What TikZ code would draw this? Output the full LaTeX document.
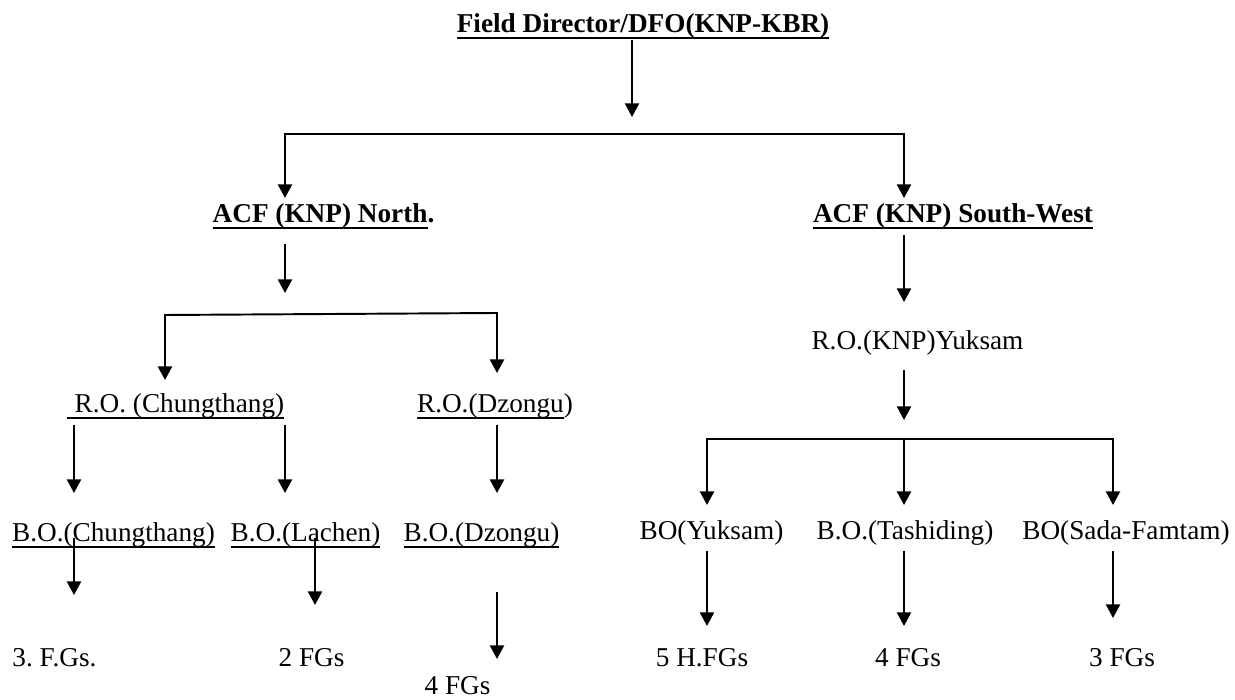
\documentclass[tikz,border=0pt]{standalone}
\usepackage{fontspec}
\setmainfont{Liberation Serif}
\usepackage{tikz}
\usetikzlibrary{arrows.meta}
\newcommand{\uln}[1]{\setbox0=\hbox{#1}\rlap{\rule[-3.2pt]{\wd0}{1.2pt}}\box0}
\frenchspacing

\begin{document}
\begin{tikzpicture}[>={Triangle[width=0.28cm,length=0.27cm]},line width=1.1pt,every node/.style={anchor=base,inner sep=0pt,outer sep=0pt,text height=0.36cm,text depth=0.14cm,font=\fontsize{15.5pt}{18pt}\selectfont}]
\useasboundingbox (0,0) rectangle (24.7,14);
\node(fd) at (12.86,13.34){\bfseries\uln{Field Director/DFO(KNP-KBR)}};
\node(acfN) at (6.47,9.54){\bfseries\uln{ACF (KNP) North}.};
\node(acfS) at (19.06,9.54){\bfseries\uln{ACF (KNP) South-West}};
\node(roC) at (3.51,5.74){\uln{\hspace{0.16cm}R.O. (Chungthang)}};
\node(roD) at (9.90,5.74){\uln{R.O.(Dzongu})};
\node(roK) at (18.35,7.00){R.O.(KNP)Yuksam};
\node(boC) at (2.27,3.16){\uln{B.O.(Chungthang)}};
\node(boL) at (6.11,3.16){\uln{B.O.(Lachen)}};
\node(boD) at (9.63,3.16){\uln{B.O.(Dzongu)}};
\node(boY) at (14.23,3.20){BO(Yuksam)};
\node(boT) at (18.10,3.20){B.O.(Tashiding)};
\node(boS) at (22.52,3.20){BO(Sada-Famtam)};
\node(fgC) at (1.09,0.66){3. F.Gs.};
\node(fgL) at (6.23,0.66){2 FGs};
\node(fgD) at (9.15,0.10){4 FGs};
\node(fgY) at (14.04,0.66){5 H.FGs};
\node(fgT) at (18.16,0.66){4 FGs};
\node(fgS) at (22.44,0.66){3 FGs};
\coordinate(top) at (12.64,11.66);
\coordinate(barL) at (5.70,11.32);\coordinate(barR) at (18.08,11.32);
\coordinate(nsp) at (5.70,8.14);
\coordinate(nbL) at (3.30,7.70);\coordinate(nbR) at (9.94,7.74);
\coordinate(ssp) at (18.08,5.60);
\coordinate(sbL) at (14.14,5.22);\coordinate(sbM) at (18.08,5.22);\coordinate(sbR) at (22.26,5.22);
\coordinate(colA) at (1.48,0);\coordinate(colB) at (6.30,0);
\draw[->](fd.south -| top)--(top);
\draw[<->,shorten <=0.14cm,shorten >=0.14cm](acfN.north -| barL)--(barL)--(barR)--(acfS.north -| barR);
\draw[->,shorten <=0.28cm](acfN.south -| nsp)--(nsp);
\draw[<->,shorten <=0.30cm,shorten >=0.44cm](roC.north -| nbL)--(nbL)--(nbR)--(roD.north -| nbR);
\draw[->,shorten <=0.10cm,shorten >=0.62cm](roC.south -| colA)--(boC.north -| colA);
\draw[->,shorten <=0.10cm,shorten >=0.62cm](roC.south -| barL)--(boL.north -| barL);
\draw[->,shorten <=0.10cm,shorten >=0.62cm](roD.south -| nbR)--(boD.north -| nbR);
\draw[->,shorten <=-0.22cm,shorten >=1.08cm](boC.south -| colA)--(fgC.north -| colA);
\draw[->,shorten <=-0.22cm,shorten >=0.88cm](boL.south -| colB)--(fgL.north -| colB);
\draw[->,shorten <=0.86cm,shorten >=0.36cm](boD.south -| nbR)--(fgD.north -| nbR);
\draw[->,shorten <=0.10cm,shorten >=0.60cm](acfS.south -| barR)--(roK.north -| barR);
\draw[->,shorten <=0.26cm](roK.south -| ssp)--(ssp);
\draw[<->,shorten <=0.34cm,shorten >=0.34cm](boY.north -| sbL)--(sbL)--(sbR)--(boS.north -| sbR);
\draw[->,shorten >=0.34cm](sbM)--(boT.north -| sbM);
\draw[->,shorten <=0.08cm,shorten >=0.46cm](boY.south -| sbL)--(fgY.north -| sbL);
\draw[->,shorten <=0.08cm,shorten >=0.46cm](boT.south -| sbM)--(fgT.north -| sbM);
\draw[->,shorten <=0.08cm,shorten >=0.62cm](boS.south -| sbR)--(fgS.north -| sbR);
\end{tikzpicture}
\end{document}
